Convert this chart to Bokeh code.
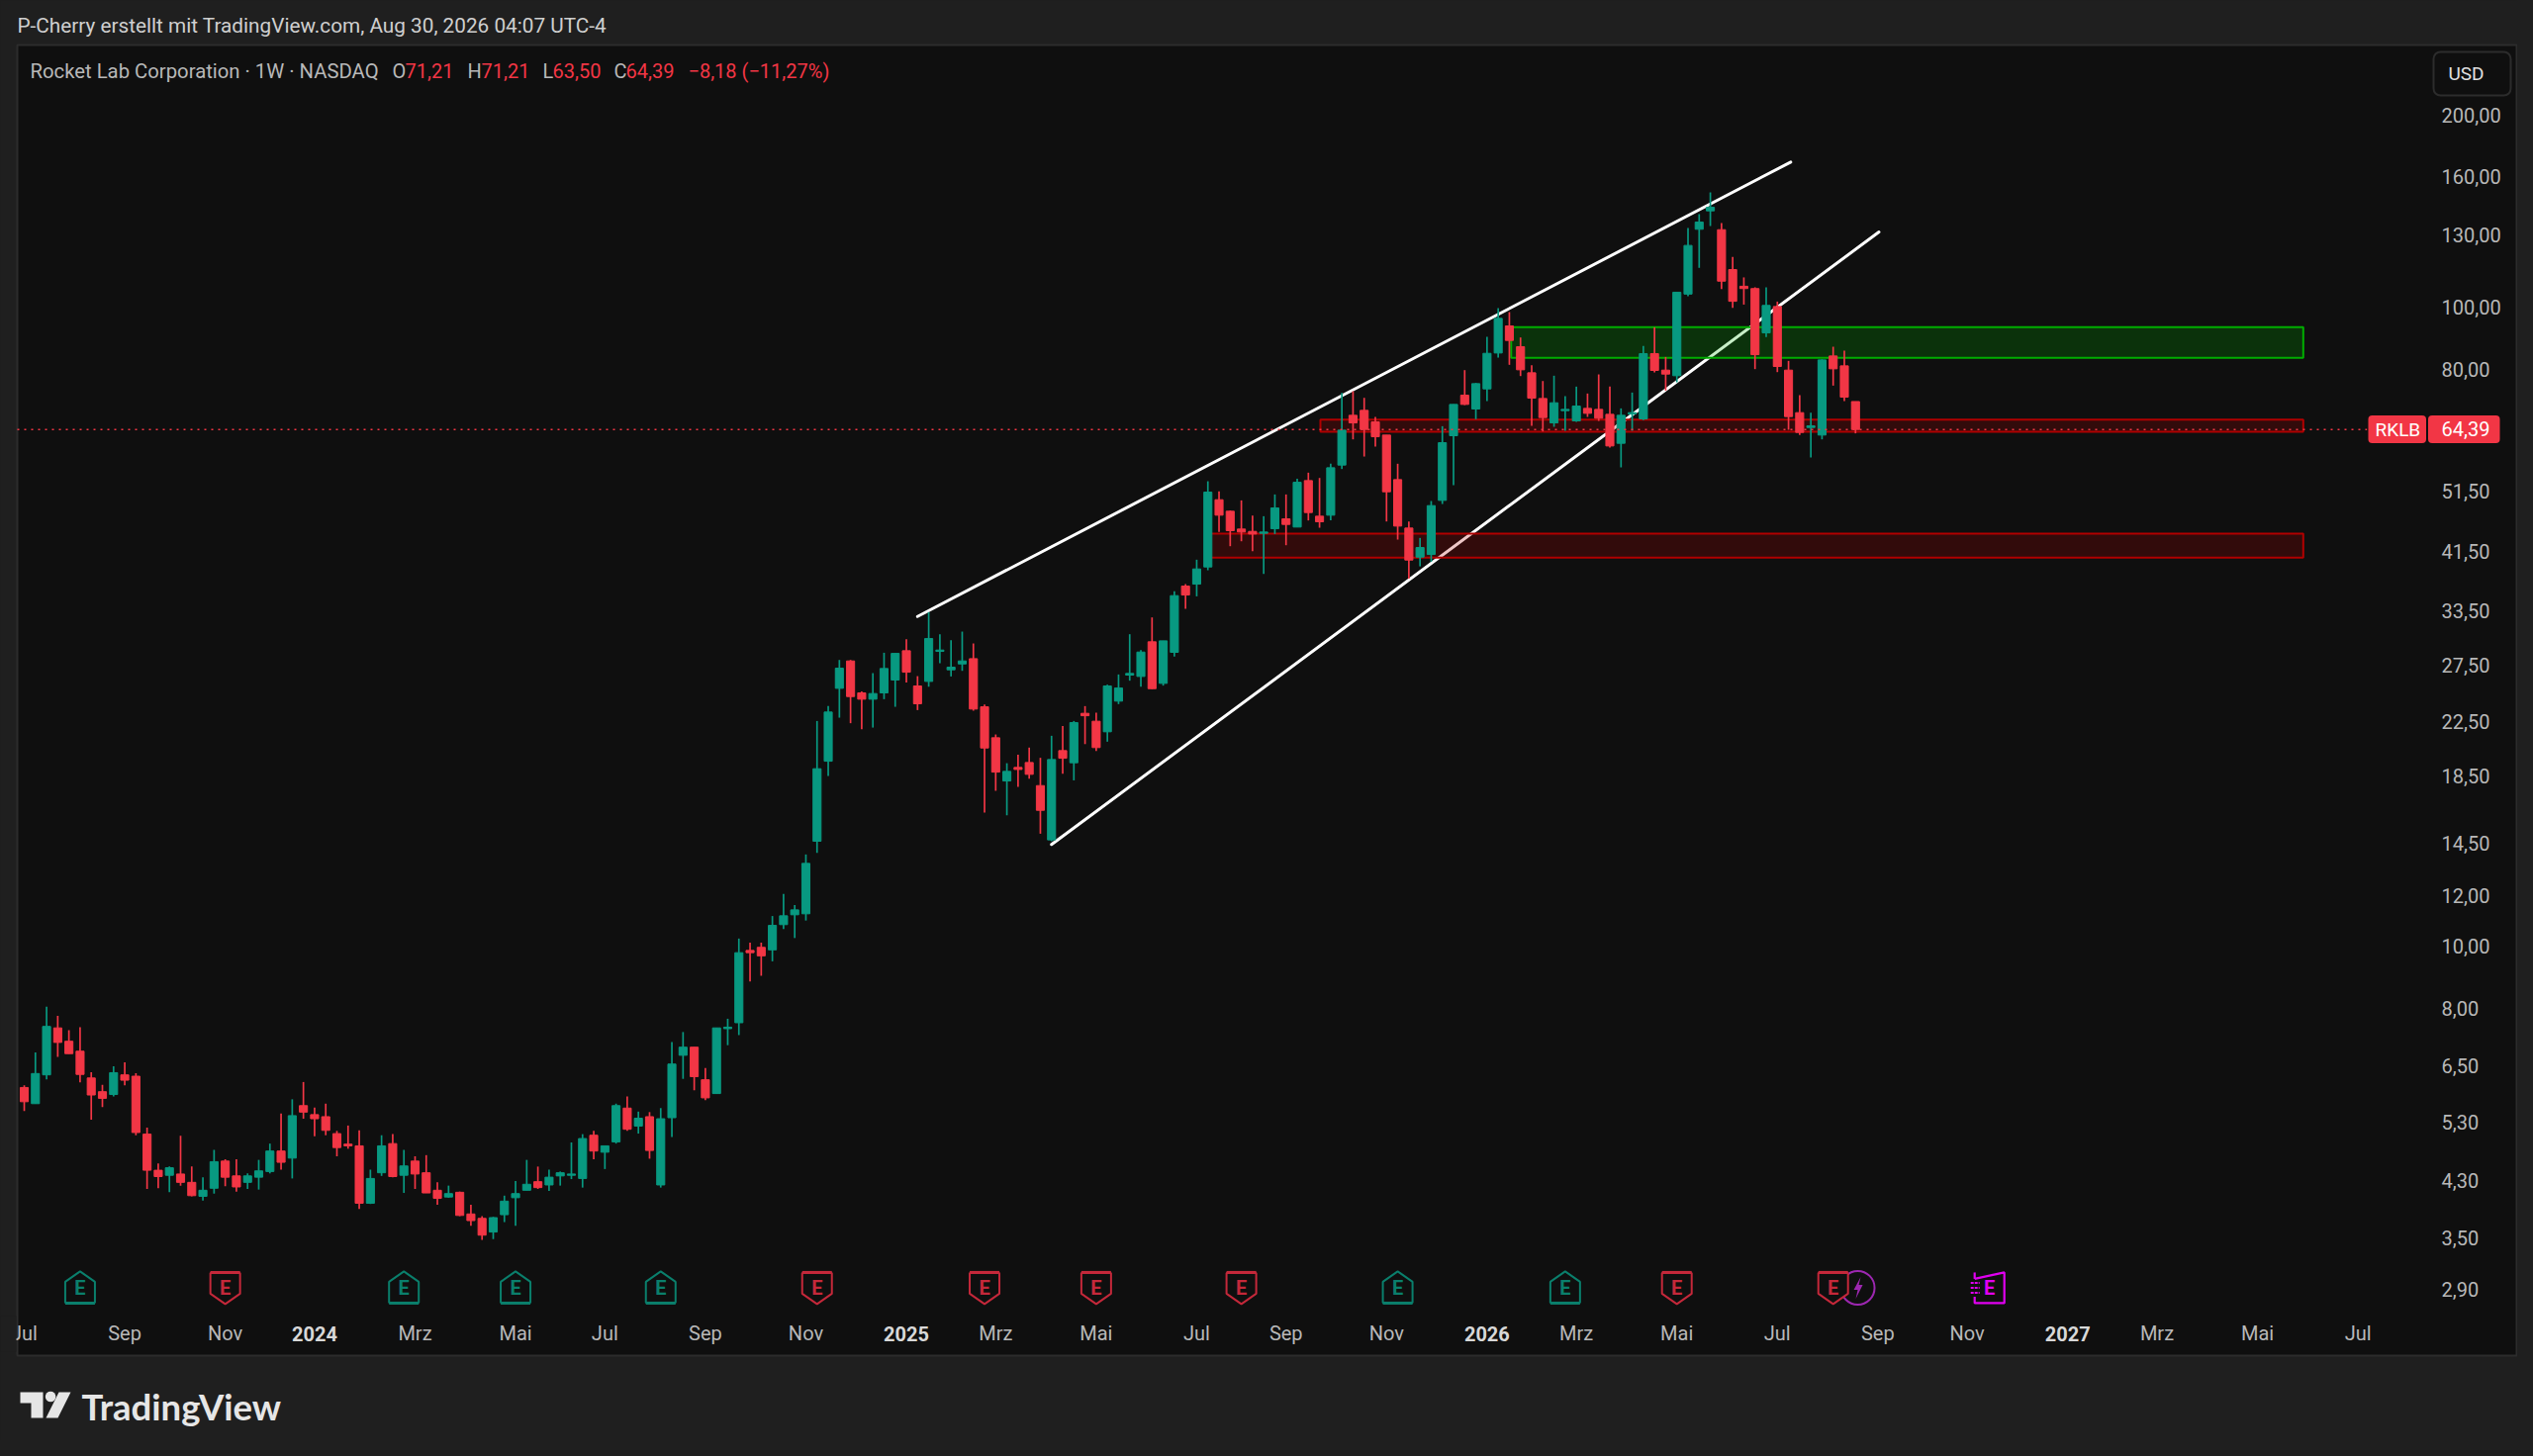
import math
from bokeh.plotting import figure
from bokeh.embed import file_html
from bokeh.resources import INLINE
from bokeh.core.properties import value
from bokeh.models import FixedTicker, LinearAxis, Label, BoxAnnotation, PolyAnnotation, ColumnDataSource

OPEN = [6.01,5.67,6.29,7.45,7.10,6.85,6.22,5.92,5.86,6.29,6.26,5.08,4.46,4.38,4.40,4.27,4.06,4.18,4.61,4.37,4.27,4.35,4.44,4.78,4.66,5.63,5.45,5.41,
 5.09,4.90,4.87,3.96,4.42,4.91,4.38,4.61,4.42,4.15,4.05,4.12,3.81,3.75,3.57,3.80,4.04,4.15,4.28,4.23,4.37,4.38,4.33,5.06,4.76,4.94,5.58,5.23,
 5.41,4.23,5.39,6.75,6.95,6.18,5.88,7.43,7.59,9.85,9.96,9.87,10.81,11.20,11.24,14.60,19.48,25.33,27.96,24.92,24.36,24.92,26.10,29.01,25.55,25.97,28.94,27.08,
 27.66,28.19,23.70,21.20,18.14,19.05,19.39,17.84,14.67,20.24,19.37,23.15,22.50,21.66,24.19,26.57,26.44,29.96,25.79,28.84,36.62,36.88,39.23,49.99,47.96,44.98,44.60,44.29,
 45.03,46.66,45.30,53.56,47.11,47.28,56.64,67.77,68.99,66.18,63.11,53.75,45.14,40.65,41.04,49.87,62.96,72.86,69.32,74.53,84.83,93.52,86.77,79.00,72.00,65.94,68.91,66.41,
 69.48,69.23,68.01,61.26,68.09,66.89,84.63,79.75,78.16,104.9,132.5,141.6,132.3,114.6,107.9,107.0,91.21,100.3,79.75,68.42,64.85,63.11,83.93,80.99,71.21]
HIGH = [6.06,6.82,8.04,7.78,7.39,7.47,6.35,6.07,6.49,6.58,6.33,5.20,4.57,4.52,5.05,4.52,4.35,4.80,4.64,4.64,4.41,4.63,4.91,5.47,5.76,6.13,5.59,5.67,
 5.14,5.24,5.15,4.47,5.06,5.08,4.80,4.69,4.71,4.27,4.22,4.13,3.94,3.78,3.77,4.07,4.29,4.63,4.52,4.47,4.44,4.93,5.08,5.14,4.87,5.67,5.82,5.51,
 5.50,5.58,7.08,7.34,6.95,6.45,7.45,7.70,10.28,10.13,10.13,11.15,12.07,11.60,13.92,22.52,23.76,28.06,28.06,25.06,26.76,28.80,28.73,30.24,26.47,33.34,30.79,30.13,
 31.08,29.78,23.90,21.45,19.34,19.95,20.46,19.72,21.35,22.12,22.52,23.76,23.20,25.67,26.63,30.79,29.08,32.71,30.06,35.93,36.88,40.27,53.43,51.50,48.07,49.87,47.22,47.11,
 50.95,50.95,53.94,55.11,54.07,56.91,73.47,73.91,72.17,67.37,63.11,56.91,46.22,43.56,49.76,65.16,70.48,79.75,76.14,89.92,99.72,98.30,89.71,81.19,76.68,78.16,72.60,75.15,
 73.30,78.53,75.15,69.48,73.56,86.98,93.07,83.63,105.6,133.1,139.9,151.3,135.5,119.9,111.4,107.5,107.5,102.1,82.45,72.86,68.42,82.94,86.77,85.54,71.21]
LOW = [5.52,5.67,6.19,6.71,6.79,6.12,5.35,5.60,5.82,6.06,5.06,4.17,4.18,4.12,4.22,4.06,4.00,4.10,4.21,4.13,4.17,4.16,4.41,4.47,4.33,5.37,5.04,5.06,
 4.69,4.82,3.88,3.95,4.37,4.35,4.11,4.17,4.11,3.94,4.04,3.78,3.65,3.47,3.48,3.70,3.65,4.15,4.17,4.14,4.22,4.32,4.19,4.64,4.48,4.91,5.14,5.09,
 4.65,4.19,5.03,6.20,5.95,5.74,5.88,7.00,7.26,8.81,8.99,9.47,10.64,10.30,10.97,14.00,18.47,22.79,22.34,21.86,21.99,24.36,23.70,25.88,23.42,25.48,27.73,26.44,
 26.98,23.37,16.19,17.51,16.03,17.76,18.29,15.00,14.60,18.62,18.18,20.72,20.21,20.90,23.93,26.04,25.48,25.27,25.58,28.40,33.74,35.29,38.77,44.50,42.28,43.04,41.53,38.26,
 44.18,42.43,45.30,46.39,45.19,46.44,55.84,62.14,58.41,60.53,46.22,43.30,37.63,39.32,39.98,49.23,52.68,70.31,66.81,71.32,83.43,81.28,78.06,65.24,63.94,65.01,64.09,66.18,
 67.37,66.41,60.32,56.17,64.09,66.57,79.09,74.09,76.32,104.1,115.3,134.1,106.8,99.83,101.0,80.04,89.81,79.18,64.32,63.11,58.21,62.14,75.42,71.32,63.50]
CLOSE = [5.71,6.32,7.49,7.07,6.79,6.30,5.85,5.78,6.34,6.17,5.11,4.46,4.36,4.50,4.27,4.07,4.15,4.60,4.35,4.20,4.37,4.45,4.78,4.59,5.43,5.50,5.37,5.15,
 4.84,4.87,3.96,4.33,4.87,4.36,4.53,4.40,4.11,4.03,4.10,3.79,3.72,3.53,3.76,3.99,4.10,4.24,4.19,4.35,4.42,4.40,5.00,4.78,4.87,5.63,5.17,5.38,
 4.79,5.37,6.54,6.95,6.25,5.79,7.45,7.47,9.77,9.77,9.66,10.78,11.16,11.40,13.48,18.96,23.26,27.24,24.59,24.36,24.86,27.21,28.73,26.85,23.96,30.31,29.08,27.34,
 27.96,23.51,20.43,18.73,18.78,18.91,18.58,16.32,19.60,19.69,22.39,22.95,20.46,25.55,25.36,26.73,28.87,25.30,30.06,35.38,35.46,38.95,51.38,47.28,44.71,44.50,44.18,44.50,
 48.53,45.73,53.24,47.73,46.17,56.10,64.24,65.94,64.39,62.73,51.44,45.46,40.22,42.08,48.94,61.40,70.48,70.48,75.96,84.73,96.11,88.75,79.85,72.09,67.21,70.90,69.23,70.06,
 68.25,67.05,60.68,67.77,68.42,84.63,79.66,78.62,105.6,125.0,136.0,143.4,109.9,102.2,107.0,84.33,100.7,80.80,67.45,63.71,65.24,82.74,80.13,72.35,64.39]

PRICE_TICKS = [200,160,130,100,80,51.5,41.5,33.5,27.5,22.5,18.5,14.5,12,10,8,6.5,5.3,4.3,3.5,2.9]
PRICE_LABELS = ["200,00","160,00","130,00","100,00","80,00","51,50","41,50","33,50","27,50","22,50","18,50","14,50","12,00","10,00","8,00","6,50","5,30","4,30","3,50","2,90"]
MONTH_TICKS = [0,9,18,35,44,52,61,70,87,96,105,113,122,139,148,157,166,174,191,200,209]
MONTH_LABELS = ["Jul","Sep","Nov","Mrz","Mai","Jul","Sep","Nov","Mrz","Mai","Jul","Sep","Nov","Mrz","Mai","Jul","Sep","Nov","Mrz","Mai","Jul"]
YEAR_TICKS = [26,79,131,183]
YEAR_LABELS = ["2024","2025","2026","2027"]

TREND_X = [[80.0,158.2],[92.0,166.1]]
TREND_Y = [[32.82,168.8],[14.43,131.2]]
ZONE_LEFT = [133.16,116.08,106.16]
ZONE_RIGHT = [204.1,204.1,204.1]
ZONE_TOP = [93.08,66.72,44.23]
ZONE_BOTTOM = [83.35,63.86,40.56]
ZONE_FILL = ["#00b300","#b30000","#b30000"]
ZONE_LINE = ["#00ad00","#b00000","#b00000"]

EARN_UP = [5,34,44,57,123,138]
EARN_DOWN = [18,71,86,96,109,148,162]
EARN_FUTURE = [176]
SPLASH = [164.2]
EARN_LEVEL = 2.92
LAST = 64.39

UP="#089981"; DN="#F23645"; PANE="#0f0f0f"; OUTER="#1f1f1f"
PX_X=11.285; PX_Y=280.5

x_range=(-2.127,223.3)
y_range=(1.683,302.2)
p=figure(width=2544,height=1456,output_backend="svg",toolbar_location=None,
         x_range=x_range,y_range=y_range,y_axis_type="log",y_axis_location="right",
         min_border=0,background_fill_color=OUTER,border_fill_color=OUTER,outline_line_color=None)
p.grid.visible=False

def box(l,r,t,b,fill,line=None,rad=4,level="annotation"):
    p.add_layout(BoxAnnotation(left=l,right=r,top=t,bottom=b,left_units="canvas",right_units="canvas",top_units="canvas",bottom_units="canvas",
                               fill_color=fill,fill_alpha=1,line_color=line,line_alpha=1,line_width=2,border_radius=rad,level=level))
box(17,2543,45,1370,PANE,"#2c2c2c",rad=0,level="underlay")

# trend lines and zones
p.multi_line(TREND_X,TREND_Y,line_color="#ffffff",line_width=3,line_cap="round")
p.quad(left=ZONE_LEFT,right=ZONE_RIGHT,top=ZONE_TOP,bottom=ZONE_BOTTOM,fill_color=ZONE_FILL,fill_alpha=0.22,line_color=ZONE_LINE,line_width=2)

# candles
idx=list(range(len(OPEN)))
col=[UP if c>=o else DN for o,c in zip(OPEN,CLOSE)]
src=ColumnDataSource(dict(x=idx,o=OPEN,h=HIGH,l=LOW,c=CLOSE,col=col,top=[max(a,b) for a,b in zip(OPEN,CLOSE)],bot=[min(a,b) for a,b in zip(OPEN,CLOSE)]))
p.segment(x0="x",x1="x",y0="l",y1="h",line_color="col",line_width=1.7,source=src)
p.vbar(x="x",width=0.72,top="top",bottom="bot",fill_color="col",line_color="col",line_width=1,source=src)

# last price line
p.segment(x0=[-0.62],x1=[209.8],y0=[LAST],y1=[LAST],line_color=DN,line_width=1.6,line_dash="2 5")

# earnings markers
def sx(i,dx): return i+dx/PX_X
def sy(dy): return EARN_LEVEL*math.exp(-dy/PX_Y)
up_shape=[(0,-16.5),(15,-6),(15,15),(-15,15),(-15,-6)]
dn_shape=[(0,16.5),(15,6),(15,-15),(-15,-15),(-15,6)]
p.scatter(SPLASH,[EARN_LEVEL],size=34,marker="circle",fill_color=None,line_color="#9c27b0",line_width=2)
bolt=[(3,-11),(-4,2),(0,2),(-2,11),(5,-3),(1,-3)]
p.patches([[sx(s,a) for a,b in bolt] for s in SPLASH],[[sy(b) for a,b in bolt] for s in SPLASH],fill_color="#9c27b0",line_color=None)
for ids,shape,c,bar in ((EARN_UP,up_shape,"#0a7f6c",15.5),(EARN_DOWN,dn_shape,"#c4283a",-15.5)):
    p.patches([[sx(i,a) for a,b in shape] for i in ids],[[sy(b) for a,b in shape] for i in ids],fill_color=PANE,line_color=c,line_width=2)
    p.segment(x0=[sx(i,-15) for i in ids],x1=[sx(i,15) for i in ids],y0=[sy(bar)]*len(ids),y1=[sy(bar)]*len(ids),line_color=c,line_width=3)
    p.text(ids,[EARN_LEVEL]*len(ids),text=["E"]*len(ids),text_color=c,text_font=value("Roboto"),text_font_style="bold",text_font_size="20px",text_align="center",text_baseline="middle")
MAG="#e000f0"
for i in EARN_FUTURE:
    p.multi_line([[sx(i,-15),sx(i,15),sx(i,15),sx(i,-15),sx(i,-15)],[sx(i,-15),sx(i,-15)]],
                 [[sy(-9),sy(-15.5),sy(15.5),sy(15.5),sy(9)],[sy(-15.5),sy(-9)]],line_color=MAG,line_width=2.2)
    p.multi_line([[sx(i,-19),sx(i,-10)] for k in range(3)],[[sy(d),sy(d)] for d in (-5,0,5)],line_color=MAG,line_width=2,line_dash="3 1")
    p.text([i],[EARN_LEVEL],text=["E"],text_color=MAG,text_font=value("Roboto"),text_font_style="bold",text_font_size="20px",text_align="center",text_baseline="middle")

# axes
LC="#b8b8b8"
ya=p.yaxis[0]
ya.ticker=FixedTicker(ticks=PRICE_TICKS)
ya.major_label_overrides={float(t) if t!=int(t) else int(t):s for t,s in zip(PRICE_TICKS,PRICE_LABELS)}
ya.major_label_text_font="Roboto"; ya.major_label_text_font_size="20px"; ya.major_label_text_color=LC
ya.major_tick_line_color=None; ya.minor_tick_line_color=None; ya.axis_line_color=None
ya.major_label_standoff=-83

xa=p.xaxis[0]
xa.ticker=FixedTicker(ticks=MONTH_TICKS)
xa.major_label_overrides=dict(zip(MONTH_TICKS,MONTH_LABELS))
xa.major_label_text_font="Roboto"; xa.major_label_text_font_size="20px"; xa.major_label_text_color=LC
xa.major_tick_line_color=None; xa.minor_tick_line_color=None; xa.axis_line_color=None
xa.major_label_standoff=-127

xb=LinearAxis(ticker=FixedTicker(ticks=YEAR_TICKS),major_label_overrides=dict(zip(YEAR_TICKS,YEAR_LABELS)))
xb.major_label_text_font="Roboto"; xb.major_label_text_font_size="20px"; xb.major_label_text_color="#d8d8d8"; xb.major_label_text_font_style="bold"
xb.major_tick_line_color=None; xb.minor_tick_line_color=None; xb.axis_line_color=None
xb.major_label_standoff=-122
p.add_layout(xb,"below")

def txt(x,y,s,c=LC,size=20.3,font="Roboto",style="normal",align="left"):
    p.add_layout(Label(x=x,y=y,x_units="canvas",y_units="canvas",text=s,text_color=c,text_font=font,
                       text_font_size=f"{size}px",text_font_style=style,text_align=align,text_baseline="middle"))

box(0,16,1330,1366,OUTER,rad=0)
txt(17,25,"P-Cherry erstellt mit TradingView.com, Aug 30, 2026 04:07 UTC-4",c="#cfcfcf",size=20.75)
txt(30,71,"Rocket Lab Corporation · 1W · NASDAQ")
for x,s,c in ((396,"O",LC),(409,"71,21",DN),(472,"H",LC),(486,"71,21",DN),(548,"L",LC),(558,"63,50",DN),(620,"C",LC),(632,"64,39",DN),(695,"−8,18 (−11,27%)",DN)):
    txt(x,71,s,c=c,size=20)

box(2459,2537,52,96,PANE,"#2c2c2c",rad=7)
txt(2474,74,"USD",c="#e0e0e0",size=19)
box(2393,2451.5,419.5,447.5,DN)
box(2453.5,2526,419.5,447.5,DN)
txt(2400,434,"RKLB",c="#ffffff",size=19)
txt(2467,433,"64,39",c="#ffffff",size=20)

# logo
LG="#e6e6e6"
circ=[(50.6+5.3*math.cos(a*math.pi/8),1411.5+5.3*math.sin(a*math.pi/8)) for a in range(16)]
for pts in ([(20,1407),(43,1407),(43,1433),(31,1433),(31,1418),(20,1418)],
            circ,
            [(59,1407),(71,1407),(58,1433),(46,1433)]):
    p.add_layout(PolyAnnotation(xs=[a for a,b in pts],ys=[b for a,b in pts],xs_units="canvas",ys_units="canvas",fill_color=LG,fill_alpha=1,line_color=None,level="annotation"))
txt(82,1421,"TradingView",c=LG,size=36.5,font="Lato",style="bold")

html=file_html(p,INLINE).replace("<head>","<head><style>html,body{background:#1f1f1f;margin:0;overflow:hidden}</style>",1)
open("out.html","w").write(html)
